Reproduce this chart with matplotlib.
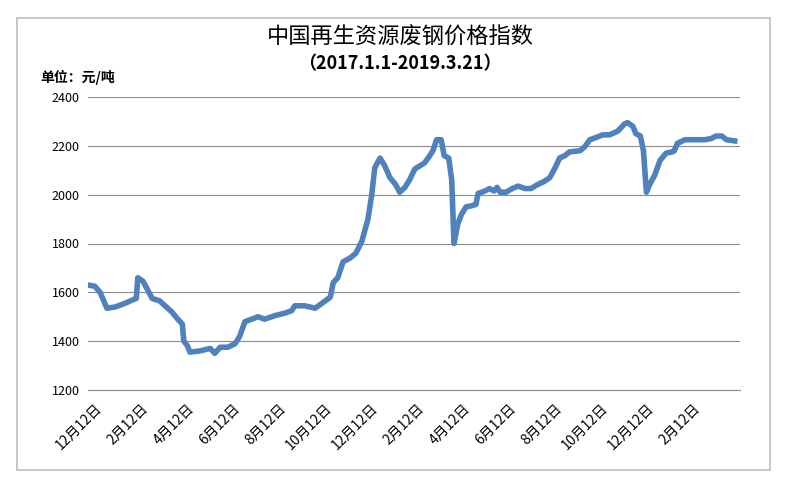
import matplotlib
matplotlib.use("Agg")
import matplotlib.pyplot as plt
from matplotlib.patches import Rectangle

plt.rcParams['font.family'] = ['Noto Sans CJK SC', 'DejaVu Sans']

# days since start of series, index values
days = [0, 9, 16, 25, 36, 49, 60, 64, 66, 73, 79, 85, 95, 102, 111, 119, 125, 127, 132, 135,
        148, 162, 168, 175, 185, 195, 201, 208, 217, 225, 234, 248, 261, 270, 274, 287, 301,
        310, 321, 325, 331, 338, 347, 355, 363, 371, 376, 380, 387, 393, 400, 408, 413, 420,
        426, 433, 446, 453, 457, 462, 468, 472, 478, 482, 485, 490, 495, 501, 509, 514, 517,
        526, 532, 538, 542, 546, 554, 562, 570, 579, 587, 595, 605, 612, 619, 625, 632, 638,
        652, 658, 665, 674, 682, 691, 702, 711, 715, 722, 726, 732, 736, 740, 744, 751, 758,
        766, 774, 777, 781, 791, 804, 817, 826, 832, 840, 846, 857]
values = [1630, 1625, 1600, 1535, 1540, 1555, 1570, 1575, 1660, 1645, 1610, 1575, 1565, 1545,
          1520, 1490, 1470, 1400, 1380, 1355, 1360, 1370, 1350, 1375, 1375, 1390, 1420, 1480,
          1490, 1500, 1490, 1505, 1515, 1525, 1545, 1545, 1535, 1555, 1580, 1640, 1660, 1725,
          1740, 1760, 1810, 1900, 2000, 2110, 2150, 2120, 2070, 2040, 2010, 2030, 2060, 2105,
          2130, 2160, 2180, 2225, 2225, 2160, 2150, 2060, 1800, 1880, 1920, 1950, 1955, 1960,
          2005, 2015, 2025, 2015, 2030, 2010, 2010, 2025, 2035, 2025, 2025, 2040, 2055, 2070,
          2110, 2150, 2160, 2175, 2180, 2195, 2225, 2235, 2245, 2245, 2260, 2290, 2295, 2280,
          2250, 2240, 2180, 2010, 2040, 2080, 2140, 2170, 2175, 2180, 2210, 2225, 2225, 2225,
          2230, 2240, 2240, 2225, 2220]
tick_labels = ['12月12日', '2月12日', '4月12日', '6月12日', '8月12日', '10月12日', '12月12日',
               '2月12日', '4月12日', '6月12日', '8月12日', '10月12日', '12月12日', '2月12日']
tick_days = [9 + 61 * i for i in range(len(tick_labels))]

fig = plt.figure(figsize=(8, 5), dpi=100)
ax = fig.add_axes([0.11, 0.22, 0.815, 0.586])

ax.plot(days, values, color='#4f81bd', lw=4, solid_joinstyle='round')
ax.set_xlim(0, 864)
ax.set_ylim(1200, 2400)
ax.set_yticks(range(1200, 2401, 200))
ax.set_xticks(tick_days)
ax.set_xticklabels(tick_labels, rotation=45, ha='right', rotation_mode='anchor', fontsize=10)
ax.tick_params(axis='x', length=0, pad=8)
ax.tick_params(axis='y', length=0, labelsize=9, pad=6)
ax.grid(axis='y', color='#8c8c8c', lw=0.8)
for s in ['left', 'right', 'top']:
    ax.spines[s].set_visible(False)
ax.spines['bottom'].set_color('#8c8c8c')

fig.text(0.5, 0.925, '中国再生资源废钢价格指数', ha='center', va='center', fontsize=16)
fig.text(0.5, 0.873, '（2017.1.1-2019.3.21）', ha='center', va='center', fontsize=13, fontweight='bold')
fig.text(0.05, 0.845, '单位：元/吨', ha='left', va='center', fontsize=10, fontweight='bold')

fig.patches.append(Rectangle((0.021, 0.06), 0.942, 0.904, transform=fig.transFigure,
                             fill=False, edgecolor='#bfbfbf', lw=1.2))

fig.savefig('out.png', dpi=100)
